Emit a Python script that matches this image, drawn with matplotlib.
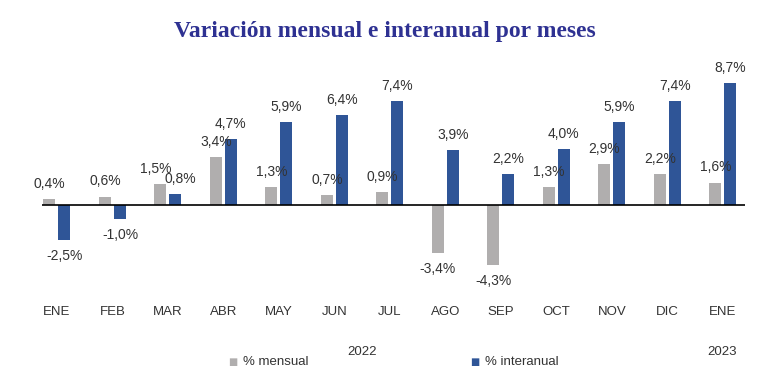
import numpy as np
import matplotlib
matplotlib.use("Agg")
import matplotlib.pyplot as plt

months = ["ENE", "FEB", "MAR", "ABR", "MAY", "JUN", "JUL",
          "AGO", "SEP", "OCT", "NOV", "DIC", "ENE"]
mensual = [0.4, 0.6, 1.5, 3.4, 1.3, 0.7, 0.9, -3.4, -4.3, 1.3, 2.9, 2.2, 1.6]
interanual = [-2.5, -1.0, 0.8, 4.7, 5.9, 6.4, 7.4, 3.9, 2.2, 4.0, 5.9, 7.4, 8.7]
years = ["2022", "2023"]

GRAY = "#B0AEAE"
BLUE = "#2F5597"

plt.rcParams['font.family'] = ['Liberation Sans', 'DejaVu Sans']

fig = plt.figure(figsize=(7.68, 3.78), dpi=100)
ax = fig.add_axes([42 / 768, 82 / 378, 703 / 768, 224 / 378])

x = np.arange(len(months))
w = 0.216
off = 0.135
b1 = ax.bar(x - off, mensual, w, color=GRAY)
b2 = ax.bar(x + off, interanual, w, color=BLUE)

ax.set_xlim(-0.27, 12.4)
ax.set_ylim(-6.5, 9.5)
ax.axhline(0, color="black", lw=1.2)
for s in ax.spines.values():
    s.set_visible(False)
ax.set_yticks([])
ax.set_xticks(x)
ax.set_xticklabels(months, fontsize=9.5, color="#333333")
ax.tick_params(axis="x", length=0, pad=7)


def fmt(v):
    return ("%.1f%%" % v).replace(".", ",")


for i in range(len(months)):
    pairs = ((b1[i], mensual[i], -1), (b2[i], interanual[i], 1))
    # labels of the pair sit at nearly the same height -> push them apart
    clash = mensual[i] > 0 and interanual[i] > 0 and abs(mensual[i] - interanual[i]) < 1.0
    for rect, v, side in pairs:
        cx = rect.get_x() + rect.get_width() / 2
        dx = 3.5 * side if clash else 0
        dy = 11 if v >= 0 else -11.5
        ax.annotate(fmt(v), (cx, v), xytext=(dx, dy), textcoords="offset points",
                    ha="center", va="center", fontsize=10, color="#333333")

fig.text(385 / 768, 1 - 31 / 378, "Variación mensual e interanual por meses",
         ha="center", va="center", fontsize=17, fontweight="bold",
         family="Liberation Serif", color="#2E3192")

# year labels under the month axis
fig.text(362 / 768, 1 - 352 / 378, years[0], ha="center", va="center",
         fontsize=9.5, color="#333333")
fig.text(722 / 768, 1 - 352 / 378, years[1], ha="center", va="center",
         fontsize=9.5, color="#333333")

# legend
fig.text(233 / 768, 1 - 362 / 378, "■", ha="center", va="center",
         fontsize=7, color=GRAY, family="DejaVu Sans")
fig.text(243 / 768, 1 - 362 / 378, "% mensual", ha="left", va="center",
         fontsize=9.5, color="#333333")
fig.text(475 / 768, 1 - 362 / 378, "■", ha="center", va="center",
         fontsize=7, color=BLUE, family="DejaVu Sans")
fig.text(485 / 768, 1 - 362 / 378, "% interanual", ha="left", va="center",
         fontsize=9.5, color="#333333")

fig.savefig("out.png", dpi=100)
